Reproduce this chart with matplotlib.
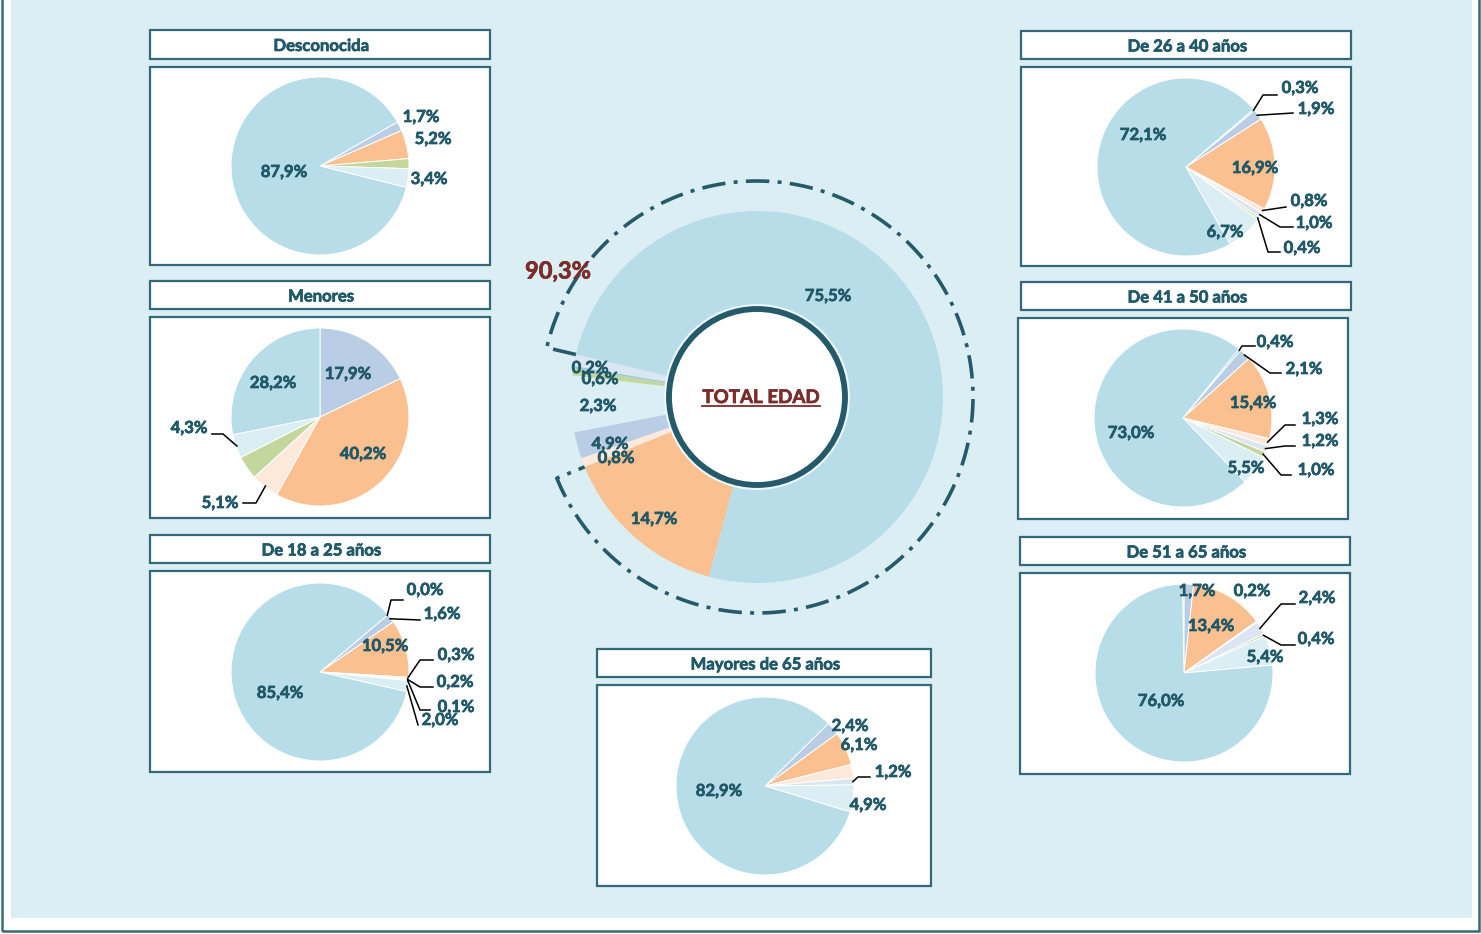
import matplotlib
matplotlib.use("Agg")
import matplotlib.pyplot as plt
import matplotlib.patheffects as pe
import numpy as np
from matplotlib.patches import Rectangle, Circle

W, H = 1481, 934

plt.rcParams["font.family"] = ["Lato", "DejaVu Sans"]

TEXT = "#215968"
EDGE = "#31687A"
DARK_RED = "#7A2D2B"
RING = "#245A69"

# slice categories, in the clockwise order the small pies use
slice_colors = ["#92CDDC", "#B9CDE5", "#FAC090", "#FDE9D9",
                "#DCE6F2", "#C3D69B", "#DAEEF3", "#B7DDE8"]

panel_titles = ["Desconocida", "Menores", "De 18 a 25 años", "De 26 a 40 años",
                "De 41 a 50 años", "De 51 a 65 años", "Mayores de 65 años"]

desconocida_values = [0.0, 1.7, 5.2, 0.0, 0.0, 1.8, 3.4, 87.9]
menores_values = [0.0, 17.9, 40.2, 5.1, 0.0, 4.3, 4.3, 28.2]
de18a25_values = [0.0, 1.6, 10.5, 0.3, 0.2, 0.1, 2.0, 85.4]
de26a40_values = [0.3, 1.9, 16.9, 0.8, 1.0, 0.4, 6.7, 72.1]
de41a50_values = [0.4, 2.1, 15.4, 1.3, 1.2, 1.0, 5.5, 73.0]
de51a65_values = [0.3, 1.7, 13.4, 0.2, 2.4, 0.4, 5.4, 76.0]
mayores65_values = [0.0, 2.4, 6.1, 2.5, 1.2, 0.0, 4.9, 82.9]

# 1 = slice has a data label
desconocida_shown = [0, 1, 1, 0, 0, 0, 1, 1]
menores_shown = [0, 1, 1, 1, 0, 0, 1, 1]
de18a25_shown = [1, 1, 1, 1, 1, 1, 1, 1]
de26a40_shown = [1, 1, 1, 1, 1, 1, 1, 1]
de41a50_shown = [1, 1, 1, 1, 1, 1, 1, 1]
de51a65_shown = [0, 1, 1, 1, 1, 1, 1, 1]
mayores65_shown = [0, 1, 1, 0, 1, 0, 1, 1]

# central donut (its own clockwise order)
total_values = [75.5, 14.7, 0.8, 2.3, 4.9, 0.6, 0.2, 1.0]
total_colors = ["#B7DDE8", "#FAC090", "#FDE9D9", "#B9CDE5",
                "#DAEEF3", "#C3D69B", "#92CDDC", "#DCE6F2"]
total_labels = ["75,5%", "14,7%", "0,8%", "4,9%", "2,3%", "0,6%", "0,2%", ""]
total_highlight = "90,3%"
total_title = "TOTAL EDAD"

all_values = [desconocida_values, menores_values, de18a25_values, de26a40_values,
              de41a50_values, de51a65_values, mayores65_values]
all_shown = [desconocida_shown, menores_shown, de18a25_shown, de26a40_shown,
             de41a50_shown, de51a65_shown, mayores65_shown]

# layout in pixels (y downward): title box, chart box, pie centre, start angle
LAYOUT = [
    ((150, 30, 490, 59), (150, 67, 490, 265), (320, 166), 29.6),
    ((150, 281, 490, 309), (150, 317, 490, 518), (320, 417), 90.0),
    ((150, 535, 490, 563), (150, 571, 490, 772), (320, 672), 40.1),
    ((1021, 31, 1351, 59), (1021, 67, 1351, 266), (1186, 167), 40.5),
    ((1021, 282, 1351, 310), (1018, 318, 1348, 519), (1183, 418), 51.0),
    ((1020, 537, 1350, 565), (1020, 573, 1350, 774), (1184, 673), 91.0),
    ((597, 649, 931, 677), (597, 685, 931, 886), (765, 786), 44.6),
]
PIE_R = 89

# label offsets from the pie centre for each shown slice: (dx, dy, leader)
# leader = (elbow dx, elbow dy, end dx) or None
LABEL_POS = [
    [(101, -49, None), (113, -27, None), (109, 13, None), (-36, 6, None)],
    [(28, -43, None), (43, 37, None), (-100, 86, (-64, 86, -77)),
     (-131, 11, (-97, 17, -108)), (-47, -34, None)],
    [(105, -82, (71, -72, 83)), (122, -58, (100, -52, 100)), (65, -26, None),
     (136, -17, (100, -12, 113)), (135, 10, (100, 15, 113)),
     (136, 35, (100, 38, 110)), (120, 48, (98, 53, 98)), (-40, 21, None)],
    [(114, -79, (77, -72, 91)), (130, -58, (107, -54, 107)), (69, 1, None),
     (123, 34, (100, 40, 100)), (128, 56, (94, 60, 107)),
     (116, 81, (82, 85, 94)), (39, 65, None), (-43, -32, None)],
    [(92, -76, (59, -72, 72)), (121, -49, (87, -45, 98)), (70, -15, None),
     (137, 1, (102, 7, 112)), (137, 23, (102, 28, 112)),
     (133, 52, (98, 57, 108)), (63, 50, None), (-52, 15, None)],
    [(13, -82, None), (27, -47, None), (68, -82, None),
     (133, -75, (97, -69, 111)), (132, -34, (97, -28, 111)),
     (81, -16, None), (-23, 28, None)],
    [(85, -60, None), (94, -41, None), (128, -14, (93, -9, 105)),
     (103, 19, None), (-46, 5, None)],
]

TOTAL_CENTER = (757, 397)
TOTAL_R = 186
TOTAL_HOLE = 91
TOTAL_START = 166.8
TOTAL_LABEL_POS = [(71, -101), (-103, 122), (-141, 61), (-147, 47),
                   (-159, 9), (-157, -18), (-167, -29), (0, 0)]


def px(x, y):
    return x, H - y


def fmt(v):
    return f"{v:.1f}".replace(".", ",") + "%"


def mid_angles(values, start):
    frac = np.asarray(values, float) / sum(values)
    ends = start - np.cumsum(frac) * 360
    return ends + frac * 180


def box(ax, b):
    x0, y0, x1, y1 = b
    ax.add_patch(Rectangle((x0, H - y1), x1 - x0, y1 - y0, facecolor="white",
                           edgecolor=EDGE, linewidth=1.6, zorder=0.5))


def heavy(color):
    # Lato bold is a bit lighter than the original font, thicken it slightly
    return [pe.withStroke(linewidth=0.5, foreground=color)]


fig = plt.figure(figsize=(W / 100, H / 100), dpi=100)
ax = fig.add_axes([0, 0, 1, 1])

# page background and frame
ax.add_patch(Rectangle((11, H - 918), 1461, 918 + 10, facecolor="#DAEEF3",
                       edgecolor="none", zorder=0.1))
ax.add_patch(Rectangle((2, H - 931), 1477, 931 + 10, facecolor="none",
                       edgecolor="#3A6A78", linewidth=1.8, zorder=0.2))

# small pies
for title, values, shown, (tbox, cbox, (cx, cy), start), labels in zip(
        panel_titles, all_values, all_shown, LAYOUT, LABEL_POS):
    box(ax, tbox)
    box(ax, cbox)
    ax.text(*px((tbox[0] + tbox[2]) / 2 + 1, (tbox[1] + tbox[3]) / 2 + 1.5), title,
            ha="center", va="center", fontsize=12, fontweight="bold", color=TEXT,
            zorder=4, path_effects=heavy(TEXT))

    keep = [i for i, v in enumerate(values) if v > 0]
    ax.pie([values[i] for i in keep], colors=[slice_colors[i] for i in keep],
           startangle=start, counterclock=False, center=px(cx, cy), radius=PIE_R,
           wedgeprops=dict(edgecolor="white", linewidth=0.7))

    mids = mid_angles(values, start)
    shown_idx = [i for i in range(len(values)) if shown[i]]
    for i, (tx, ty, leader) in zip(shown_idx, labels):
        if leader:
            ex, ey, hx = leader
            a = np.deg2rad(mids[i])
            sx, sy = cx + (PIE_R - 1) * np.cos(a), cy - (PIE_R - 1) * np.sin(a)
            ax.plot([sx, cx + ex, cx + hx], [H - sy, H - cy - ey, H - cy - ey],
                    color="black", linewidth=1.1, zorder=3)
        ax.text(*px(cx + tx, cy + ty), fmt(values[i]), ha="center", va="center",
                fontsize=12, fontweight="bold", color=TEXT, zorder=4,
                path_effects=heavy(TEXT))

# central donut
tcx, tcy = TOTAL_CENTER
ax.pie(total_values, colors=total_colors, startangle=TOTAL_START, counterclock=False,
       center=px(tcx, tcy), radius=TOTAL_R,
       wedgeprops=dict(width=TOTAL_R - TOTAL_HOLE, edgecolor="none"))
ax.add_patch(Circle(px(tcx, tcy), TOTAL_HOLE + 2, facecolor="#EEF7FA",
                    edgecolor="none", zorder=2))
ax.add_patch(Circle(px(tcx, tcy), TOTAL_HOLE - 3, facecolor="white",
                    edgecolor=RING, linewidth=4.2, zorder=2.5))

for lab, (dx, dy) in zip(total_labels, TOTAL_LABEL_POS):
    if lab:
        ax.text(*px(tcx + dx, tcy + dy), lab, ha="center", va="center",
                fontsize=12, fontweight="bold", color=TEXT, zorder=4,
                path_effects=heavy(TEXT))

# dash-dot outline round the first two slices of the donut
share = (total_values[0] + total_values[1]) / sum(total_values) * 360
ring_r = 216
ang = np.deg2rad(np.linspace(TOTAL_START, TOTAL_START - share, 400))
xs = np.r_[tcx + TOTAL_R * np.cos(ang[0]), tcx + ring_r * np.cos(ang),
           tcx + TOTAL_R * np.cos(ang[-1])]
ys = np.r_[tcy - TOTAL_R * np.sin(ang[0]), tcy - ring_r * np.sin(ang),
           tcy - TOTAL_R * np.sin(ang[-1])]
ax.plot(xs, H - ys, color=RING, linewidth=2.6, linestyle=(0, (6.5, 2.3, 1.1, 2.3)),
        dash_capstyle="butt", zorder=3)

ax.text(*px(558, 271), total_highlight, ha="center", va="center", fontsize=17,
        fontweight="bold", color=DARK_RED, zorder=4, path_effects=heavy(DARK_RED))

t = ax.text(*px(tcx + 4, tcy + 6), total_title, ha="center", va="baseline",
            fontsize=13.5, fontweight="bold", color=DARK_RED, zorder=4,
            path_effects=heavy(DARK_RED))

ax.set_xlim(0, W)
ax.set_ylim(0, H)
ax.set_aspect("equal")
ax.axis("off")

fig.canvas.draw()
bb = t.get_window_extent()
ax.plot([bb.x0, bb.x1], [H - tcy - 9, H - tcy - 9], color=DARK_RED, linewidth=1.3, zorder=4)

fig.savefig("out.png", dpi=100, facecolor="white")
